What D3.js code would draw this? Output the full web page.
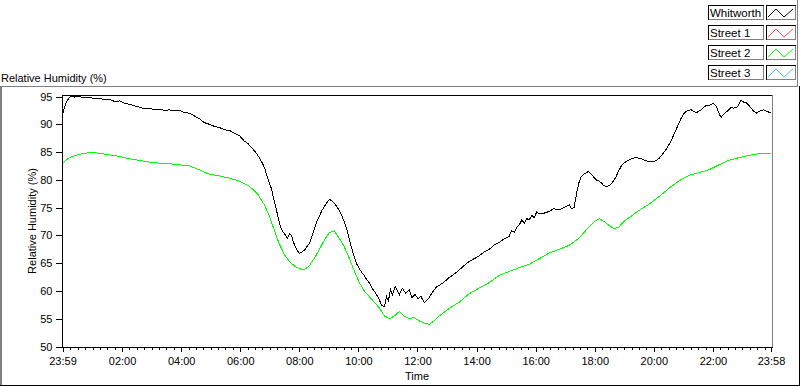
<!DOCTYPE html>
<html>
<head>
<meta charset="utf-8">
<script src="https://cdn.jsdelivr.net/npm/d3@7"></script>
<style>
  body { margin: 0; background: #fff; }
  text { font-family: "Liberation Sans", Arial, sans-serif; font-size: 11px; fill: #000; }
</style>
</head>
<body>
<div id="chart"></div>
<script>
// minutes since 23:59 (start of log) and relative humidity values
const whitworthT = [0, 2, 6, 10, 16, 24, 30, 38, 45, 55, 65, 75, 85, 95, 106, 116, 126, 136, 146, 156, 166, 176, 187, 197, 207, 217, 227, 237, 248, 258, 268, 278, 288, 298, 309, 319, 329, 339, 349, 359, 369, 377, 384, 390, 396, 401, 406, 411, 416, 420, 424, 428, 432, 436, 440, 444, 449, 453, 457, 461, 465, 469, 473, 477, 481, 486, 491, 496, 501, 506, 511, 516, 522, 527, 532, 537, 542, 547, 552, 557, 562, 567, 572, 577, 582, 587, 593, 598, 603, 608, 613, 618, 623, 628, 633, 638, 643, 648, 654, 658, 662, 666, 670, 676, 684, 690, 697, 704, 710, 716, 722, 728, 735, 740, 745, 750, 755, 760, 765, 775, 785, 795, 806, 816, 826, 836, 846, 856, 867, 877, 887, 897, 907, 912, 918, 923, 928, 933, 938, 943, 948, 953, 958, 963, 968, 978, 988, 998, 1009, 1019, 1029, 1034, 1039, 1042, 1045, 1049, 1053, 1058, 1063, 1068, 1074, 1079, 1084, 1089, 1094, 1099, 1104, 1109, 1114, 1119, 1124, 1129, 1135, 1140, 1145, 1150, 1155, 1160, 1165, 1170, 1175, 1180, 1185, 1190, 1195, 1200, 1206, 1211, 1216, 1221, 1226, 1231, 1236, 1241, 1246, 1251, 1256, 1261, 1266, 1271, 1277, 1282, 1287, 1292, 1297, 1302, 1307, 1312, 1317, 1322, 1327, 1331, 1335, 1338, 1343, 1348, 1353, 1358, 1363, 1368, 1373, 1378, 1383, 1388, 1393, 1398, 1403, 1409, 1414, 1419, 1424, 1429, 1434, 1439];
const whitworthV = [91.5, 92.5, 93.6, 94.3, 95.0, 94.9, 95.1, 94.9, 94.8, 94.9, 94.6, 94.7, 94.4, 94.5, 94.1, 94.2, 93.8, 93.6, 93.3, 93.1, 92.8, 92.9, 92.6, 92.7, 92.5, 92.6, 92.4, 92.5, 92.1, 92.0, 91.5, 91.0, 90.3, 90.0, 89.6, 89.4, 89.0, 88.9, 88.4, 88.0, 87.0, 86.5, 85.8, 85.2, 84.5, 83.8, 83.0, 82.0, 80.5, 79.5, 78.5, 77.0, 75.5, 74.0, 72.5, 71.2, 70.5, 70.0, 69.5, 70.3, 70.0, 68.8, 68.0, 67.2, 66.8, 67.0, 67.3, 67.9, 68.5, 69.6, 71.0, 72.4, 73.5, 74.5, 75.2, 75.9, 76.5, 76.2, 75.8, 75.2, 74.5, 73.6, 72.5, 71.2, 69.5, 67.8, 66.0, 64.8, 64.0, 63.3, 62.8, 62.0, 61.5, 60.6, 60.0, 59.3, 58.5, 57.4, 57.2, 59.0, 58.2, 60.3, 59.3, 60.8, 59.3, 60.5, 59.6, 60.2, 58.8, 59.4, 58.6, 59.0, 57.9, 58.3, 58.8, 59.6, 60.2, 60.8, 61.0, 61.6, 62.4, 63.0, 63.8, 64.6, 65.3, 65.8, 66.3, 67.0, 67.5, 68.3, 68.7, 69.4, 69.8, 70.8, 70.6, 71.5, 71.9, 72.8, 72.2, 73.0, 72.8, 73.6, 73.2, 74.2, 73.9, 74.0, 74.3, 74.8, 74.6, 75.0, 75.5, 74.8, 75.0, 76.5, 78.0, 79.5, 80.5, 81.0, 81.2, 81.5, 81.0, 80.5, 80.0, 79.8, 79.5, 79.0, 78.8, 78.9, 79.2, 79.8, 80.5, 81.5, 82.5, 83.0, 83.3, 83.5, 83.8, 83.9, 84.0, 83.9, 83.8, 83.6, 83.5, 83.3, 83.4, 83.3, 83.5, 83.8, 84.3, 84.9, 85.5, 86.2, 87.0, 88.0, 89.0, 90.0, 91.0, 91.8, 92.3, 92.5, 92.6, 92.3, 92.1, 92.3, 92.6, 93.0, 93.4, 93.3, 93.6, 93.7, 93.4, 92.5, 91.6, 91.3, 91.8, 92.2, 92.6, 93.0, 92.9, 93.0, 93.4, 94.4, 94.0, 93.9, 93.5, 93.0, 92.4, 92.0, 92.3, 92.5, 92.6, 92.4, 92.2, 92.2];

const street2T = [0, 6, 14, 24, 35, 55, 75, 95, 116, 136, 156, 177, 197, 217, 237, 258, 278, 298, 319, 339, 359, 380, 396, 410, 420, 430, 440, 451, 461, 471, 481, 491, 501, 511, 522, 532, 542, 552, 562, 572, 582, 593, 603, 613, 623, 633, 643, 654, 664, 674, 684, 694, 704, 714, 725, 735, 745, 755, 765, 785, 806, 826, 846, 867, 887, 907, 928, 948, 968, 988, 1009, 1029, 1049, 1059, 1069, 1080, 1090, 1100, 1110, 1120, 1130, 1140, 1151, 1171, 1191, 1212, 1232, 1252, 1272, 1293, 1313, 1333, 1353, 1374, 1394, 1414, 1439];
const street2V = [83.0, 83.5, 84.0, 84.3, 84.6, 84.9, 84.8, 84.5, 84.2, 83.8, 83.5, 83.2, 83.0, 82.9, 82.7, 82.5, 81.8, 81.0, 80.7, 80.3, 79.8, 78.8, 77.5, 75.5, 73.5, 71.0, 68.5, 66.5, 65.3, 64.5, 64.0, 63.8, 64.5, 65.8, 67.5, 69.2, 70.5, 70.8, 69.5, 68.0, 66.0, 63.5, 61.5, 60.0, 59.0, 58.0, 57.0, 55.5, 55.0, 55.5, 56.3, 55.5, 55.0, 55.2, 54.6, 54.2, 54.0, 54.6, 55.5, 56.8, 58.0, 59.5, 60.5, 61.5, 62.8, 63.5, 64.2, 64.8, 65.8, 66.8, 67.5, 68.2, 69.5, 70.5, 71.5, 72.5, 73.0, 72.5, 71.8, 71.2, 71.5, 72.5, 73.2, 74.5, 75.6, 77.0, 78.5, 79.8, 80.8, 81.3, 81.8, 82.7, 83.5, 84.0, 84.4, 84.7, 84.7];

const seriesNames = ["Whitworth", "Street 1", "Street 2", "Street 3"];
const seriesColors = ["#000000", "#ff5050", "#00ff00", "#50b4ff"];

const yTicks = [50, 55, 60, 65, 70, 75, 80, 85, 90, 95];
const xTickMinutes = [0, 121, 241, 361, 481, 601, 721, 841, 961, 1081, 1201, 1321, 1439];
const xTickLabels = ["23:59", "02:00", "04:00", "06:00", "08:00", "10:00", "12:00", "14:00", "16:00", "18:00", "20:00", "22:00", "23:58"];

document.addEventListener('DOMContentLoaded', function () {
    const w = 800, h = 386;
    const left = 62.5, right = 771, top = 96.5, bottom = 346.5;

    const svg = d3.select('#chart')
        .append('svg')
        .attr('width', w)
        .attr('height', h);

    const x = d3.scaleLinear().domain([0, 1439]).range([left, right]);
    const y = d3.scaleLinear().domain([50, 95]).range([bottom, top]);

    function hline(x1, x2, yy, color) {
        svg.append('line').attr('x1', x1).attr('x2', x2).attr('y1', yy).attr('y2', yy)
            .attr('stroke', color).attr('shape-rendering', 'crispEdges');
    }
    function vline(xx, y1, y2, color) {
        svg.append('line').attr('x1', xx).attr('x2', xx).attr('y1', y1).attr('y2', y2)
            .attr('stroke', color).attr('shape-rendering', 'crispEdges');
    }

    // outer frame
    hline(0, 798, 86.5, '#808080');
    vline(0.5, 86, 386, '#808080');
    vline(1.5, 86, 386, '#808080');
    hline(0, 800, 385.5, '#000');
    vline(799.5, 86, 386, '#000');
    vline(797.5, 0, 87, '#808080');

    // titles
    svg.append('text').attr('x', 1).attr('y', 82).text('Relative Humidity (%)');
    svg.append('text').attr('text-anchor', 'middle')
        .attr('transform', 'translate(36,' + ((95 + 347) / 2) + ') rotate(-90)')
        .text('Relative Humidity (%)');
    svg.append('text').attr('x', (62 + 772) / 2).attr('y', 380).attr('text-anchor', 'middle').text('Time');

    // plot lines
    const line = d3.line().x(d => x(d[0])).y(d => y(d[1]));
    const plotG = svg.append('g');
    plotG.append('path')
        .datum(street2T.map((t, i) => [t, street2V[i]]))
        .attr('d', line).attr('fill', 'none').attr('stroke', seriesColors[2]).attr('stroke-width', 1)
        .attr('shape-rendering', 'crispEdges');
    plotG.append('path')
        .datum(whitworthT.map((t, i) => [t, whitworthV[i]]))
        .attr('d', line).attr('fill', 'none').attr('stroke', seriesColors[0]).attr('stroke-width', 1)
        .attr('shape-rendering', 'crispEdges');

    // plot frame
    hline(62, 773, 95.5, '#000');
    vline(62.5, 95, 348, '#000');
    vline(772.5, 95, 348, '#808080');
    hline(62, 773, 347.5, '#000');

    // y axis
    const yAxis = d3.axisLeft(y).tickValues(yTicks).tickSize(6).tickPadding(3);
    const yG = svg.append('g').attr('transform', 'translate(61.5,0)').call(yAxis);
    yG.select('.domain').remove();
    yG.selectAll('text').style('font-family', '"Liberation Sans", Arial, sans-serif').style('font-size', '11px');
    yG.selectAll('line').attr('shape-rendering', 'crispEdges');

    // x axis minor ticks (15 min)
    const minor = d3.range(16, 1439, 15).filter(m => xTickMinutes.indexOf(m) < 0);
    const xMinor = d3.axisBottom(x).tickValues(minor).tickSize(2).tickFormat('');
    const xmG = svg.append('g').attr('transform', 'translate(0,348)').call(xMinor);
    xmG.select('.domain').remove();
    xmG.selectAll('line').attr('shape-rendering', 'crispEdges');

    // x axis major ticks
    const xAxis = d3.axisBottom(x).tickValues(xTickMinutes).tickSize(4).tickPadding(5)
        .tickFormat((d, i) => xTickLabels[i]);
    const xG = svg.append('g').attr('transform', 'translate(0,348)').call(xAxis);
    xG.select('.domain').remove();
    xG.selectAll('text').style('font-family', '"Liberation Sans", Arial, sans-serif').style('font-size', '11px');
    xG.selectAll('line').attr('shape-rendering', 'crispEdges');

    // legend
    const legendRowY = d3.scalePoint().domain(seriesNames).range([5, 65]);
    const lg = svg.append('g').selectAll('g').data(seriesNames).enter().append('g')
        .attr('transform', d => 'translate(0,' + legendRowY(d) + ')');
    function box(g, x0, x1, hgt) {
        g.append('rect').attr('x', x0 + 0.5).attr('y', 0.5).attr('width', x1 - x0).attr('height', hgt)
            .attr('fill', '#fff').attr('stroke', '#000').attr('shape-rendering', 'crispEdges');
        g.append('line').attr('x1', x0 + 1).attr('x2', x1 + 1).attr('y1', hgt + 0.5).attr('y2', hgt + 0.5)
            .attr('stroke', '#808080').attr('shape-rendering', 'crispEdges');
        g.append('line').attr('x1', x1 + 0.5).attr('x2', x1 + 0.5).attr('y1', 1).attr('y2', hgt + 1)
            .attr('stroke', '#808080').attr('shape-rendering', 'crispEdges');
    }
    lg.each(function (d, i) {
        const g = d3.select(this);
        box(g, 708, 763, 14);
        box(g, 766, 795, 14);
        g.append('text').attr('x', 710).attr('y', 11.5).style('font-size', '11.5px').text(d);
        g.append('polyline')
            .attr('points', '768,12 776,4 784,12 793,4')
            .attr('fill', 'none').attr('stroke', seriesColors[i]);
    });
});
</script>
</body>
</html>
